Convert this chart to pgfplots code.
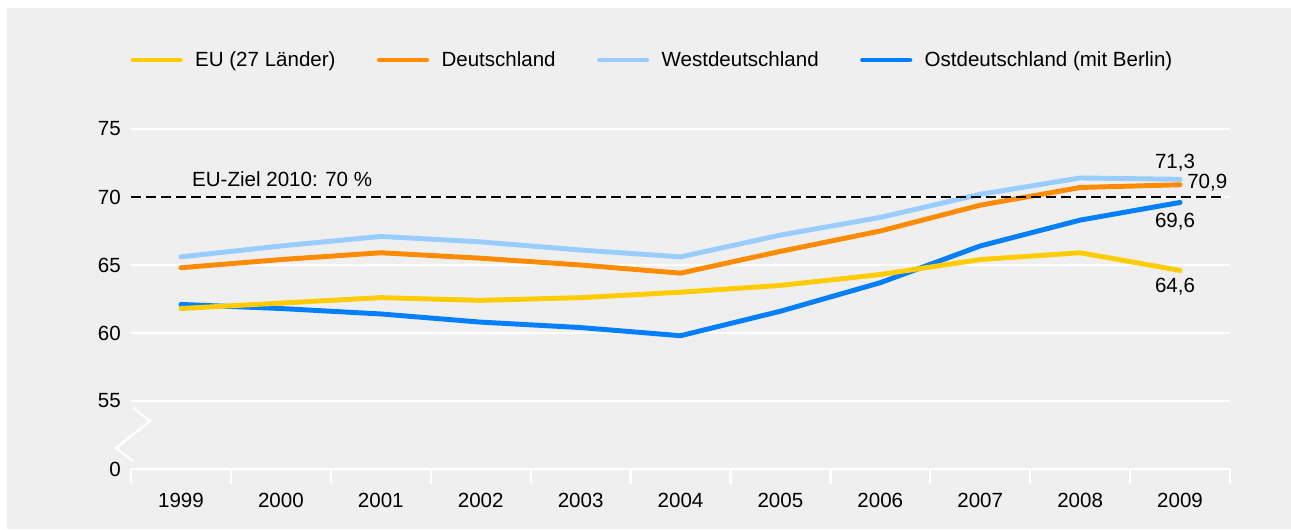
\documentclass[border=0pt]{standalone}
\usepackage{fontspec}
\setmainfont{Liberation Sans}
\usepackage{pgfplots}
\pgfplotsset{compat=1.18}

\definecolor{euyellow}{RGB}{255,204,0}
\definecolor{deorange}{RGB}{255,140,0}
\definecolor{westblue}{RGB}{153,204,255}
\definecolor{ostblue}{RGB}{0,128,255}
\definecolor{bggray}{RGB}{239,239,239}

\newcommand{\fs}{\fontsize{15.4}{18}\selectfont}

\begin{document}
\begin{tikzpicture}
% page background (1px = 0.75pt), axis origin at bottom-left of plot area
\fill[white] (-98.25pt,-45pt) rectangle (870pt,351.75pt);
\fill[bggray] (-93pt,-45pt) rectangle (870pt,345.75pt);
\begin{axis}[
  scale only axis,
  width=824.25pt, height=255pt,
  xmin=-0.5, xmax=10.5, ymin=50, ymax=75,
  clip=false,
  axis line style={draw=none},
  font=\fs,
  /pgf/number format/assume math mode=true,
  xtick pos=lower, ytick pos=left,
  xtick={0,...,10},
  xticklabels={1999,2000,2001,2002,2003,2004,2005,2006,2007,2008,2009},
  xticklabel style={anchor=north, inner sep=0pt, yshift=-18pt},
  ytick={50,55,60,65,70,75},
  yticklabels={0,55,60,65,70,75},
  yticklabel style={anchor=east, inner sep=0pt, xshift=-7.5pt},
  major tick length=0pt,
  tick style={white, line width=1.7pt},
  extra x ticks={-0.5,0.5,...,10.5},
  extra x tick labels={},
  extra x tick style={major tick length=11.25pt, tick align=outside, xtick pos=lower},
  ymajorgrids,
  grid style={white, line width=1.7pt},
  legend columns=4,
  legend style={at={(0,1)}, anchor=west, xshift=-2.25pt, yshift=51.75pt,
    draw=none, fill=none, inner sep=0pt, font=\fs,
    nodes={inner sep=0pt},
    /tikz/every odd column/.append style={column sep=7.5pt},
    /tikz/every even column/.append style={column sep=29.25pt}},
  legend image code/.code={%
    \path (0pt,0pt) (39pt,0pt);
    \draw[#1, line cap=round] (1.8pt,0pt) -- (37.2pt,0pt);},
  every axis plot/.append style={line width=3.7pt, line join=round, line cap=round},
]
\addlegendimage{euyellow}
\addlegendentry{EU (27 Länder)}
\addlegendimage{deorange}
\addlegendentry{Deutschland}
\addlegendimage{westblue}
\addlegendentry{Westdeutschland}
\addlegendimage{ostblue}
\addlegendentry{Ostdeutschland (mit Berlin)}

% Westdeutschland
\addplot[westblue, forget plot] coordinates {
  (0,65.6) (1,66.4) (2,67.1) (3,66.7) (4,66.1) (5,65.6)
  (6,67.2) (7,68.5) (8,70.2) (9,71.4) (10,71.3)};
% Ostdeutschland (mit Berlin)
\addplot[ostblue, forget plot] coordinates {
  (0,62.1) (1,61.8) (2,61.4) (3,60.8) (4,60.4) (5,59.8)
  (6,61.6) (7,63.7) (8,66.4) (9,68.3) (10,69.6)};
% Deutschland
\addplot[deorange, forget plot] coordinates {
  (0,64.8) (1,65.4) (2,65.9) (3,65.5) (4,65.0) (5,64.4)
  (6,66.0) (7,67.5) (8,69.4) (9,70.7) (10,70.9)};
% EU (27 Laender)
\addplot[euyellow, forget plot] coordinates {
  (0,61.8) (1,62.2) (2,62.6) (3,62.4) (4,62.6) (5,63.0)
  (6,63.5) (7,64.3) (8,65.4) (9,65.9) (10,64.6)};

% EU-Ziel 2010
\addplot[black, line width=1.9pt, line cap=butt, dash pattern=on 7.5pt off 3.75pt, forget plot]
  coordinates {(-0.5,70) (10.45,70)};
\node[anchor=base west, inner sep=0pt, yshift=8.25pt] at (axis cs:0.11,70) {EU-Ziel 2010: 70 \%};

% end labels
\node[inner sep=0pt, xshift=-3.75pt, yshift=12.75pt] at (axis cs:10,71.3) {71,3};
\node[anchor=west, inner sep=0pt, xshift=5.25pt, yshift=1.3pt] at (axis cs:10,70.9) {70,9};
\node[inner sep=0pt, xshift=-3.75pt, yshift=-14.7pt] at (axis cs:10,69.6) {69,6};
\node[inner sep=0pt, xshift=-3.75pt, yshift=-12.5pt] at (axis cs:10,64.6) {64,6};

% axis break
\draw[white, line width=1.7pt] (axis cs:-0.48,54.49) -- (axis cs:-0.31,53.53)
  -- (axis cs:-0.65,51.54) -- (axis cs:-0.48,50.59);
\end{axis}
\end{tikzpicture}
\end{document}
